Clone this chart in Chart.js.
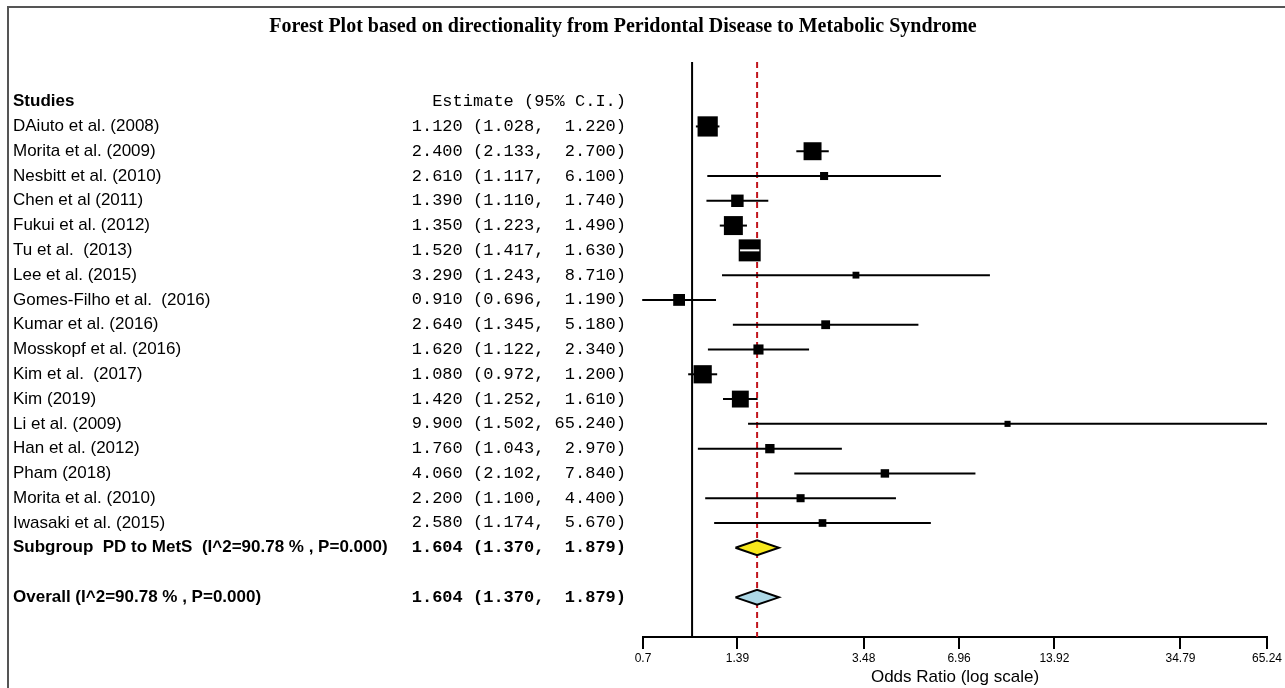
<!DOCTYPE html>
<html>
<head>
<meta charset="utf-8">
<script src="https://cdn.jsdelivr.net/npm/chart.js@4"></script>
<style>
  html, body { margin: 0; padding: 0; background: #fff; }
  #wrap { width: 1285px; height: 688px; position: relative; }
</style>
</head>
<body>
<div id="wrap"><canvas id="forest" width="1285" height="688"></canvas></div>
<script>
const studies = [
  'DAiuto et al. (2008)', 'Morita et al. (2009)', 'Nesbitt et al. (2010)', 'Chen et al (2011)',
  'Fukui et al. (2012)', 'Tu et al.  (2013)', 'Lee et al. (2015)', 'Gomes-Filho et al.  (2016)',
  'Kumar et al. (2016)', 'Mosskopf et al. (2016)', 'Kim et al.  (2017)', 'Kim (2019)',
  'Li et al. (2009)', 'Han et al. (2012)', 'Pham (2018)', 'Morita et al. (2010)', 'Iwasaki et al. (2015)'
];
const estimates = [1.120, 2.400, 2.610, 1.390, 1.350, 1.520, 3.290, 0.910, 2.640, 1.620, 1.080, 1.420, 9.900, 1.760, 4.060, 2.200, 2.580];
const lower = [1.028, 2.133, 1.117, 1.110, 1.223, 1.417, 1.243, 0.696, 1.345, 1.122, 0.972, 1.252, 1.502, 1.043, 2.102, 1.100, 1.174];
const upper = [1.220, 2.700, 6.100, 1.740, 1.490, 1.630, 8.710, 1.190, 5.180, 2.340, 1.200, 1.610, 65.240, 2.970, 7.840, 4.400, 5.670];
// relative weights (%)
const weights = [13.2, 10.4, 2.1, 5.0, 11.6, 15.6, 1.5, 4.5, 2.5, 3.3, 10.7, 9.2, 1.2, 2.8, 2.3, 2.1, 1.9];

const summaryLabels = ['Subgroup  PD to MetS  (I^2=90.78 % , P=0.000)', 'Overall (I^2=90.78 % , P=0.000)'];
const summaryEst = [1.604, 1.604];
const summaryLower = [1.370, 1.370];
const summaryUpper = [1.879, 1.879];
const summaryColors = ['#f7e81c', '#add8e6'];

const tickValues = [0.7, 1.39, 3.48, 6.96, 13.92, 34.79, 65.24];
const nullValue = 1;
const pooledValue = 1.604;

const n = studies.length;
const summaryRows = [n, n + 2];
const maxW = Math.max(...weights);
const boxSide = weights.map(w => 22 * Math.sqrt(w / maxW));
const yTop = -2.6, yBottom = 20.6;

const fmt = (e, lo, hi) => `${e.toFixed(3)} (${lo.toFixed(3)}, ${hi.toFixed(3).padStart(6)})`;

const ciSets = studies.map((s, i) => ({
  type: 'line',
  data: [{ x: lower[i], y: i }, { x: upper[i], y: i }],
  borderColor: '#000', borderWidth: 2, pointRadius: 0, order: 5, clip: false
}));

const diamondH = 0.3;
const diamondSets = summaryRows.map((r, k) => ({
  type: 'line',
  data: [
    { x: summaryLower[k], y: r }, { x: summaryEst[k], y: r - diamondH },
    { x: summaryUpper[k], y: r }, { x: summaryEst[k], y: r + diamondH },
    { x: summaryLower[k], y: r }
  ],
  borderColor: '#000', borderWidth: 2, pointRadius: 0, tension: 0,
  fill: 'shape', backgroundColor: summaryColors[k], order: 1
}));

const refLines = [
  { type: 'line', data: [{ x: nullValue, y: yTop }, { x: nullValue, y: yBottom }],
    borderColor: '#000', borderWidth: 2, pointRadius: 0, order: 9 },
  { type: 'line', data: [{ x: pooledValue, y: yTop }, { x: pooledValue, y: yBottom }],
    borderColor: '#c0141c', borderWidth: 2, borderDash: [6, 4], pointRadius: 0, order: 8 }
];

const boxes = {
  type: 'scatter',
  data: estimates.map((e, i) => ({ x: e, y: i })),
  pointStyle: 'rect',
  pointRadius: boxSide.map(s => s / Math.SQRT2),
  backgroundColor: '#000', borderWidth: 0, order: 3, clip: false
};

const tablePlugin = {
  id: 'table',
  afterDatasetsDraw(chart) {
    const { ctx, scales: { x, y } } = chart;
    ctx.save();
    // white CI line when it sits fully inside its box
    estimates.forEach((e, i) => {
      const cx = x.getPixelForValue(e), half = boxSide[i] / 2;
      const a = x.getPixelForValue(lower[i]), b = x.getPixelForValue(upper[i]);
      if (a >= cx - half && b <= cx + half) {
        ctx.strokeStyle = '#fff'; ctx.lineWidth = 2;
        ctx.beginPath(); ctx.moveTo(a, y.getPixelForValue(i)); ctx.lineTo(b, y.getPixelForValue(i)); ctx.stroke();
      }
    });
    ctx.restore();
  },
  afterDraw(chart) {
    const { ctx, scales: { y } } = chart;
    ctx.save();
    // frame
    ctx.strokeStyle = '#555'; ctx.lineWidth = 2;
    ctx.beginPath(); ctx.moveTo(8, 688); ctx.lineTo(8, 7); ctx.lineTo(1285, 7); ctx.stroke();

    ctx.fillStyle = '#000';
    ctx.textBaseline = 'middle';
    ctx.font = 'bold 20px "Liberation Serif", serif';
    ctx.textAlign = 'center';
    ctx.fillText('Forest Plot based on directionality from Peridontal Disease to Metabolic Syndrome', 623, 27);

    const nameX = 13, estX = 626;
    const hy = y.getPixelForValue(-1);
    ctx.textAlign = 'left';
    ctx.font = 'bold 17px "Liberation Sans", Arial, sans-serif';
    ctx.fillText('Studies', nameX, hy);
    ctx.textAlign = 'right';
    ctx.font = '17px "Liberation Mono", monospace';
    ctx.fillText('Estimate (95% C.I.)', estX, hy);

    studies.forEach((s, i) => {
      const py = y.getPixelForValue(i);
      ctx.textAlign = 'left';
      ctx.font = '17px "Liberation Sans", Arial, sans-serif';
      ctx.fillText(s, nameX, py);
      ctx.textAlign = 'right';
      ctx.font = '17px "Liberation Mono", monospace';
      ctx.fillText(fmt(estimates[i], lower[i], upper[i]), estX, py);
    });
    summaryRows.forEach((r, k) => {
      const py = y.getPixelForValue(r);
      ctx.textAlign = 'left';
      ctx.font = 'bold 17px "Liberation Sans", Arial, sans-serif';
      ctx.fillText(summaryLabels[k], nameX, py);
      ctx.textAlign = 'right';
      ctx.font = 'bold 17px "Liberation Mono", monospace';
      ctx.fillText(fmt(summaryEst[k], summaryLower[k], summaryUpper[k]), estX, py);
    });
    ctx.restore();
  }
};

new Chart(document.getElementById('forest'), {
  type: 'scatter',
  data: { datasets: [...refLines, ...ciSets, boxes, ...diamondSets] },
  options: {
    responsive: false,
    animation: false,
    events: [],
    layout: { padding: { left: 643, right: 18, top: 62, bottom: 0 } },
    plugins: { legend: { display: false }, tooltip: { enabled: false } },
    scales: {
      x: {
        type: 'logarithmic', min: 0.7, max: 65.24,
        afterBuildTicks: s => { s.ticks = tickValues.map(v => ({ value: v })); },
        afterFit: s => { s.height = 51; },
        ticks: {
          autoSkip: false, maxRotation: 0, color: '#000', padding: 2,
          font: { size: 12, family: '"Liberation Sans", Arial, sans-serif' },
          callback: (v, i) => String(tickValues[i])
        },
        grid: { drawOnChartArea: false, tickLength: 12, color: '#000', lineWidth: 2 },
        border: { color: '#000', width: 2 },
        title: {
          display: true, text: 'Odds Ratio (log scale)', color: '#000',
          font: { size: 17, family: '"Liberation Sans", Arial, sans-serif' },
          padding: { top: 0, bottom: 0 }
        }
      },
      y: { type: 'linear', min: yTop, max: yBottom, reverse: true, display: false }
    }
  },
  plugins: [tablePlugin]
});
</script>
</body>
</html>
